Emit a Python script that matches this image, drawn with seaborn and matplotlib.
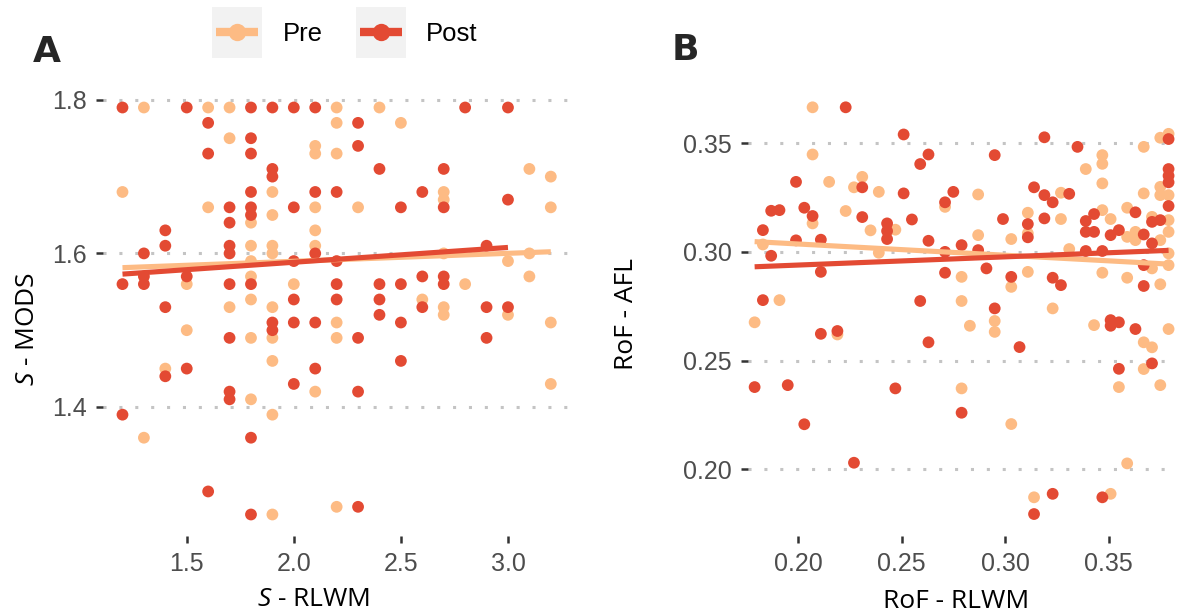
import numpy as np
import pandas as pd
import matplotlib
matplotlib.use("Agg")
import matplotlib.pyplot as plt
from matplotlib import font_manager as fm
from matplotlib.patches import Rectangle
from matplotlib.lines import Line2D
from matplotlib.ticker import FormatStrFormatter
import seaborn as sns

# ---------------- data ----------------
groups = ["Pre", "Post"]
colors = {"Pre": "#FDBB84", "Post": "#E34A33"}

# Panel A : S - RLWM (x) vs S - MODS (y)
a_pre_x = [1.3, 1.6, 1.7, 2.2, 2.4, 2.2, 2.5, 1.7, 2.1, 2.1, 2.2, 3.1, 3.2, 1.2, 1.9, 2.7,
           2.7, 1.6, 2.1, 2.3, 3.2, 1.9, 1.8, 2.1, 1.8, 1.9, 2.1, 1.9, 2.7, 3.1, 1.8, 3.0,
           1.8, 3.1, 1.5, 2.0, 2.8, 1.8, 2.6, 1.7, 1.9, 2.7, 2.7, 3.0, 2.2, 3.2, 1.5, 1.8,
           1.9, 2.2, 1.9, 1.4, 3.2, 2.1, 1.8, 1.9, 1.3, 2.2, 1.9]
a_pre_y = [1.79, 1.79, 1.79, 1.79, 1.79, 1.77, 1.77, 1.75, 1.74, 1.73, 1.73, 1.71, 1.70, 1.68, 1.68, 1.68,
           1.67, 1.66, 1.66, 1.66, 1.66, 1.65, 1.64, 1.63, 1.61, 1.61, 1.61, 1.60, 1.60, 1.60, 1.59, 1.59,
           1.57, 1.57, 1.56, 1.56, 1.56, 1.54, 1.54, 1.53, 1.53, 1.53, 1.52, 1.52, 1.51, 1.51, 1.50, 1.49,
           1.49, 1.49, 1.46, 1.45, 1.43, 1.42, 1.41, 1.39, 1.36, 1.27, 1.26]

a_post_x = [1.2, 1.5, 1.8, 1.9, 2.0, 2.1, 2.8, 3.0, 1.6, 2.3, 1.8, 2.3, 1.6, 1.8, 1.9, 2.4,
            2.7, 1.9, 1.8, 2.1, 2.2, 2.6, 3.0, 1.7, 1.8, 2.0, 2.5, 2.7, 1.8, 1.7, 1.4, 1.4,
            1.7, 2.9, 1.3, 1.7, 2.1, 2.0, 2.2, 1.3, 1.5, 2.6, 2.7, 1.2, 1.3, 1.7, 1.8, 2.2,
            2.4, 2.5, 2.7, 2.0, 2.2, 2.4, 1.4, 2.6, 2.9, 3.0, 2.4, 1.9, 2.0, 2.1, 2.5, 1.9,
            1.7, 2.3, 2.9, 2.5, 1.5, 2.1, 1.4, 2.0, 1.7, 2.3, 1.7, 1.2, 1.8, 1.6, 2.3, 1.8]
a_post_y = [1.79, 1.79, 1.79, 1.79, 1.79, 1.79, 1.79, 1.79, 1.77, 1.77, 1.75, 1.74, 1.73, 1.73, 1.71, 1.71,
            1.71, 1.70, 1.68, 1.68, 1.68, 1.68, 1.67, 1.66, 1.66, 1.66, 1.66, 1.66, 1.65, 1.64, 1.63, 1.61,
            1.61, 1.61, 1.60, 1.60, 1.60, 1.59, 1.59, 1.57, 1.57, 1.57, 1.57, 1.56, 1.56, 1.56, 1.56, 1.56,
            1.56, 1.56, 1.56, 1.54, 1.54, 1.54, 1.53, 1.53, 1.53, 1.53, 1.52, 1.51, 1.51, 1.51, 1.51, 1.50,
            1.49, 1.49, 1.49, 1.46, 1.45, 1.45, 1.44, 1.43, 1.42, 1.42, 1.41, 1.39, 1.36, 1.29, 1.27, 1.26]

# Panel B : RoF - RLWM (x) vs RoF - AFL (y)
b_pre_x = [0.207, 0.207, 0.215, 0.231, 0.227, 0.239, 0.207, 0.223, 0.235, 0.183, 0.239, 0.191,
           0.271, 0.287, 0.247, 0.287, 0.303, 0.311, 0.311, 0.279, 0.303, 0.311, 0.279, 0.347,
           0.347, 0.339, 0.347, 0.367, 0.375, 0.379, 0.375, 0.375, 0.379, 0.367, 0.327, 0.379,
           0.359, 0.347, 0.351, 0.327, 0.359, 0.363, 0.363, 0.371, 0.375, 0.379, 0.331, 0.379,
           0.379, 0.371, 0.347, 0.359, 0.375, 0.323, 0.179, 0.219, 0.295, 0.295, 0.283, 0.279,
           0.303, 0.314, 0.343, 0.379, 0.367, 0.371, 0.367, 0.355, 0.375, 0.359, 0.351]
b_pre_y = [0.3665, 0.3448, 0.3322, 0.3345, 0.3297, 0.3276, 0.3131, 0.3188, 0.3099, 0.3034, 0.2996, 0.2778,
           0.3207, 0.3264, 0.3102, 0.3077, 0.3059, 0.3180, 0.3085, 0.2885, 0.2839, 0.2908, 0.2774, 0.3445,
           0.3405, 0.3381, 0.3315, 0.3483, 0.3525, 0.3543, 0.3299, 0.3261, 0.3261, 0.3269, 0.3272, 0.3146,
           0.3203, 0.3192, 0.3151, 0.3151, 0.3069, 0.3092, 0.3054, 0.3161, 0.3054, 0.3092, 0.3013, 0.2993,
           0.2939, 0.2924, 0.2904, 0.2881, 0.2851, 0.2740, 0.2676, 0.2620, 0.2682, 0.2632, 0.2660, 0.2372,
           0.2208, 0.1871, 0.2663, 0.2645, 0.2584, 0.2561, 0.2461, 0.2378, 0.2387, 0.2027, 0.1887]

b_post_x = [0.223, 0.199, 0.231, 0.187, 0.191, 0.203, 0.207, 0.231, 0.183, 0.199, 0.211, 0.187,
            0.211, 0.183, 0.243, 0.243, 0.243, 0.251, 0.263, 0.259, 0.295, 0.251, 0.275, 0.271,
            0.314, 0.255, 0.263, 0.279, 0.299, 0.311, 0.311, 0.271, 0.287, 0.291, 0.271, 0.303,
            0.259, 0.295, 0.319, 0.335, 0.379, 0.379, 0.379, 0.379, 0.319, 0.323, 0.331, 0.379,
            0.363, 0.343, 0.339, 0.319, 0.339, 0.343, 0.351, 0.355, 0.367, 0.371, 0.375, 0.371,
            0.339, 0.347, 0.367, 0.323, 0.327, 0.367, 0.211, 0.219, 0.179, 0.195, 0.203, 0.227,
            0.263, 0.307, 0.247, 0.279, 0.314, 0.351, 0.351, 0.355, 0.363, 0.371, 0.355, 0.323,
            0.347]
b_post_y = [0.3665, 0.3322, 0.3297, 0.3189, 0.3192, 0.3203, 0.3165, 0.3160, 0.3100, 0.3053, 0.3056, 0.2982,
            0.2908, 0.2778, 0.3131, 0.3096, 0.3059, 0.3540, 0.3448, 0.3404, 0.3445, 0.3269, 0.3276, 0.3228,
            0.3297, 0.3149, 0.3051, 0.3031, 0.3151, 0.3128, 0.3067, 0.3000, 0.3008, 0.2924, 0.2904, 0.2885,
            0.2774, 0.2740, 0.3527, 0.3483, 0.3519, 0.3381, 0.3350, 0.3320, 0.3261, 0.3228, 0.3267, 0.3211,
            0.3182, 0.3174, 0.3142, 0.3154, 0.3092, 0.3092, 0.3077, 0.3100, 0.3080, 0.3138, 0.3146, 0.3039,
            0.3004, 0.3004, 0.2939, 0.2881, 0.2847, 0.2843, 0.2623, 0.2636, 0.2378, 0.2387, 0.2207, 0.2030,
            0.2584, 0.2562, 0.2372, 0.2260, 0.1794, 0.2686, 0.2660, 0.2676, 0.2645, 0.2487, 0.2462, 0.1887,
            0.1871]

a_xticks = [1.5, 2.0, 2.5, 3.0]
a_yticks = [1.4, 1.6, 1.8]
b_xticks = [0.20, 0.25, 0.30, 0.35]
b_yticks = [0.20, 0.25, 0.30, 0.35]

# ---------------- style ----------------
sns.set_style("white")
plt.rcParams["font.family"] = ["Liberation Sans", "DejaVu Sans"]


def has_italic(fam):
    return any(f.name == fam and f.style in ("italic", "oblique") for f in fm.fontManager.ttflist)


title_font = "Open Sans"
it_font = next((f for f in ["Open Sans", "Noto Sans", "Lato", "Liberation Sans", "DejaVu Sans"]
                if has_italic(f)), "DejaVu Sans")
plt.rcParams["mathtext.fontset"] = "custom"
plt.rcParams["mathtext.it"] = f"{it_font}:italic"
plt.rcParams["mathtext.rm"] = title_font

W, H = 1177, 613
fig = plt.figure(figsize=(W / 100, H / 100), dpi=100)
fig.patch.set_facecolor("white")

axA = fig.add_axes([103 / W, 1 - 536 / H, 469 / W, 450 / H])
axB = fig.add_axes([748 / W, 1 - 536 / H, 469 / W, 450 / H])


def make_df(px, py, qx, qy):
    return pd.DataFrame({
        "x": list(px) + list(qx),
        "y": list(py) + list(qy),
        "Time": ["Pre"] * len(px) + ["Post"] * len(qx),
    })


dfA = make_df(a_pre_x, a_pre_y, a_post_x, a_post_y)
dfB = make_df(b_pre_x, b_pre_y, b_post_x, b_post_y)

for ax, df in [(axA, dfA), (axB, dfB)]:
    sns.scatterplot(data=df, x="x", y="y", hue="Time", hue_order=groups, palette=colors,
                    s=72, linewidth=0, alpha=1, legend=False, ax=ax, zorder=2)
    for g in groups:
        sub = df[df["Time"] == g]
        sns.regplot(data=sub, x="x", y="y", scatter=False, ci=None, truncate=True, ax=ax,
                    line_kws={"color": colors[g], "lw": 3.7, "solid_capstyle": "butt", "zorder": 3})

axA.set_xlim(1.109, 3.299)
axA.set_ylim(1.232, 1.818)
axB.set_xlim(0.1758, 0.4024)
axB.set_ylim(0.1693, 0.3763)

axA.set_xticks(a_xticks)
axA.set_yticks(a_yticks)
axB.set_xticks(b_xticks)
axB.set_yticks(b_yticks)
axA.xaxis.set_major_formatter(FormatStrFormatter("%.1f"))
axA.yaxis.set_major_formatter(FormatStrFormatter("%.1f"))
axB.xaxis.set_major_formatter(FormatStrFormatter("%.2f"))
axB.yaxis.set_major_formatter(FormatStrFormatter("%.2f"))

for ax in (axA, axB):
    ax.set_facecolor("white")
    for s in ax.spines.values():
        s.set_visible(False)
    ax.set_axisbelow(True)
    ax.yaxis.grid(True, linestyle=(0, (1, 4.2)), linewidth=2.2, color="#C4C4C4")
    ax.xaxis.grid(False)
    ax.tick_params(axis="both", which="major", length=5, width=1.8, color="#333333",
                   labelsize=18, labelcolor="#4D4D4D", pad=6.5, direction="out",
                   bottom=True, left=True)
    ax.set_xlabel("")
    ax.set_ylabel("")

# axis titles
tkw = dict(fontfamily=title_font, fontsize=19, color="black", ha="center", va="center")
fig.text(314 / W, 1 - 599 / H, r"$\mathit{S}$ - RLWM", **tkw)
fig.text(28 / W, 1 - 329 / H, r"$\mathit{S}$ - MODS", rotation=90, **tkw)
fig.text(956 / W, 1 - 601 / H, "RoF - RLWM", **tkw)
fig.text(627 / W, 1 - 314 / H, "RoF - AFL", rotation=90, **tkw)

# panel letters
fig.text(47 / W, 1 - 52 / H, "A", fontsize=26, fontweight="bold", family="DejaVu Sans",
         ha="center", va="center")
fig.text(685 / W, 1 - 50 / H, "B", fontsize=26, fontweight="bold", family="DejaVu Sans",
         ha="center", va="center")

# legend (drawn at top)
for g, x0, tx in [("Pre", 212, 283), ("Post", 356, 426)]:
    fig.add_artist(Rectangle((x0 / W, 1 - 58 / H), 50 / W, 51 / H, transform=fig.transFigure,
                             facecolor="#F2F2F2", edgecolor="none"))
    fig.add_artist(Line2D([(x0 + 4) / W, (x0 + 46) / W], [1 - 32 / H, 1 - 32 / H],
                          transform=fig.transFigure, color=colors[g], lw=6,
                          solid_capstyle="butt"))
    fig.add_artist(Line2D([(x0 + 25) / W], [1 - 32 / H], transform=fig.transFigure,
                          marker="o", markersize=12.5, color=colors[g], markeredgewidth=0,
                          linestyle="none"))
    fig.text(tx / W, 1 - 34 / H, g, fontsize=18.5, color="black", ha="left", va="center")

fig.savefig("out.png", dpi=100, facecolor="white")
